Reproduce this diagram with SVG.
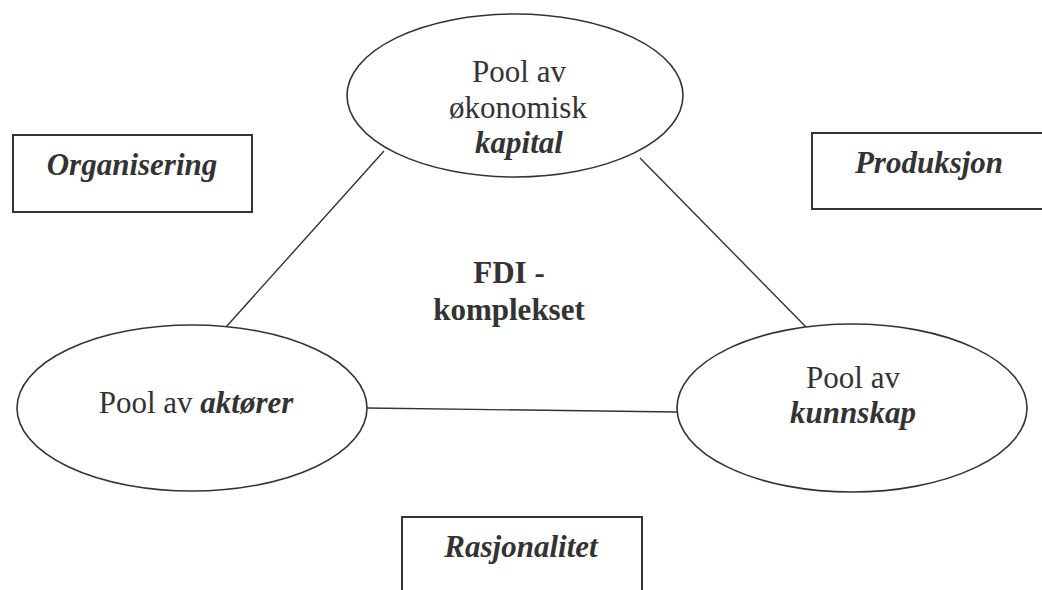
<svg xmlns="http://www.w3.org/2000/svg" width="1042" height="590" viewBox="0 0 1042 590">
  <style>
    .shape { fill: #ffffff; stroke: #333333; stroke-width: 1.6; }
    .box { fill: #ffffff; stroke: #333333; stroke-width: 2; }
    .link { stroke: #333333; stroke-width: 1.4; fill: none; }
    .lbl { font-family: 'Liberation Serif', 'Times New Roman', Times, Tinos, 'Noto Serif', 'DejaVu Serif', FreeSerif, serif; font-size: 31px; fill: #333333; text-anchor: middle; }
    .em { font-weight: bold; font-style: italic; }
    .b { font-weight: bold; }
  </style>
  <rect width="1042" height="590" fill="#ffffff"/>

  <g id="connectors">
    <line class="link" x1="226" y1="327" x2="384" y2="151"/>
    <line class="link" x1="640" y1="158" x2="807" y2="328"/>
    <line class="link" x1="367" y1="408" x2="677" y2="412"/>
  </g>

  <g id="kapital" class="lbl">
    <ellipse class="shape" cx="515" cy="95.5" rx="168" ry="81.5"/>
    <text x="519" y="82">Pool av</text>
    <text x="518" y="118">økonomisk</text>
    <text x="519" y="153" class="em">kapital</text>
  </g>

  <g id="aktorer" class="lbl">
    <ellipse class="shape" cx="192" cy="408" rx="175" ry="83"/>
    <text x="196" y="413">Pool av <tspan class="em">aktører</tspan></text>
  </g>

  <g id="kunnskap" class="lbl">
    <ellipse class="shape" cx="852" cy="408" rx="175" ry="84"/>
    <text x="853" y="388">Pool av</text>
    <text x="853" y="423" class="em">kunnskap</text>
  </g>

  <g id="fdi" class="lbl">
    <text x="509" y="283" class="b">FDI -</text>
    <text x="509" y="320" class="b">komplekset</text>
  </g>

  <g id="organisering" class="lbl">
    <rect class="box" x="13" y="135" width="239" height="77"/>
    <text x="132" y="175" class="em">Organisering</text>
  </g>

  <g id="produksjon" class="lbl">
    <rect class="box" x="812" y="133" width="240" height="76"/>
    <text x="929" y="173" class="em">Produksjon</text>
  </g>

  <g id="rasjonalitet" class="lbl">
    <rect class="box" x="402" y="517" width="240" height="90"/>
    <text x="521" y="557" class="em">Rasjonalitet</text>
  </g>
</svg>
